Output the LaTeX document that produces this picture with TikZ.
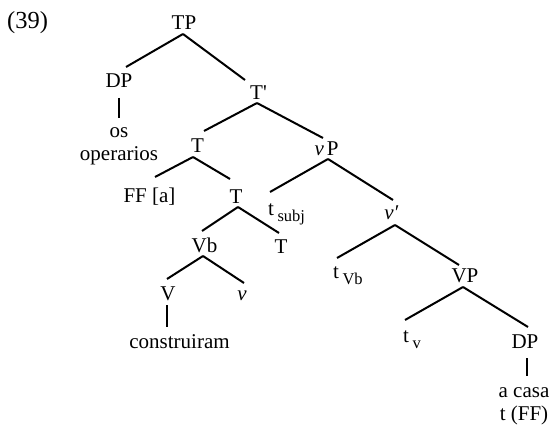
\documentclass[tikz,border=0pt]{standalone}
\usepackage{fontspec}
\setmainfont{Liberation Serif}
\begin{document}
\begin{tikzpicture}[x=1pt,y=-1pt,
  lab/.style={font=\fontsize{21}{25}\selectfont, inner sep=0pt, anchor=base},
  labw/.style={lab, anchor=base west},
  edge/.style={line width=2pt, line cap=butt}]
\newcommand{\subtxt}[1]{\hspace{3.5pt}\raisebox{-6.5pt}{\fontsize{16.5}{18}\selectfont #1}}
% canvas
\fill[white] (0,0) rectangle (551,425);
\useasboundingbox (0,0) rectangle (551,425);

% example number
\node[labw, font=\fontsize{24.5}{28}\selectfont] (num) at (7,29) {(39)};

% tree nodes
\node[lab] (TP)   at (184,30)    {TP};
\node[lab] (DPa)  at (119,88)    {DP};
\node[lab] (os)   at (119,138)   {os};
\node[lab] (oper) at (119,160)   {operarios};
\node[lab] (Tbar) at (258.5,100) {T\textquotesingle};
\node[lab] (Ta)   at (197.5,152) {T};
\node[lab] (vP)   at (326.5,155) {\textit{v}\hspace{3pt}P};
\node[lab] (FF)   at (149.5,202) {FF [a]};
\node[lab] (Tb)   at (236,203)   {T};
\node[labw] (tsubj) at (268,215) {t\subtxt{subj}};
\node[lab] (vbar) at (391.5,219) {\textit{v′}};
\node[lab] (Vb)   at (204.5,252) {Vb};
\node[lab] (Tc)   at (281,253)   {T};
\node[labw] (tVb) at (333,278)   {t\subtxt{Vb}};
\node[lab] (VP)   at (465,282)   {VP};
\node[lab] (V)    at (168,300)   {V};
\node[lab] (vlow) at (242,300)   {\textit{v}};
\node[labw] (tv)  at (403,342)   {t\subtxt{v}};
\node[lab] (cons) at (179.5,348) {construiram};
\node[lab] (DPb)  at (525,348)   {DP};
\node[lab] (casa) at (524,397)   {a casa};
\node[lab] (tFF)  at (524,420)   {t (FF)};

% branches
\draw[edge] ([shift={(-1,4)}]TP.base)    -- ([shift={(7,-21)}]DPa.base);
\draw[edge] ([shift={(-1,4)}]TP.base)    -- ([shift={(-13.5,-20)}]Tbar.base);
\draw[edge] ([shift={(0,10)}]DPa.base)   -- ([shift={(0,-20)}]os.base);
\draw[edge] ([shift={(-1.5,3)}]Tbar.base) -- ([shift={(6.5,-21)}]Ta.base);
\draw[edge] ([shift={(-1.5,3)}]Tbar.base) -- ([shift={(-3.5,-17)}]vP.base);
\draw[edge] ([shift={(-4.5,5)}]Ta.base)  -- ([shift={(5.5,-25)}]FF.base);
\draw[edge] ([shift={(-4.5,5)}]Ta.base)  -- ([shift={(-6,-24)}]Tb.base);
\draw[edge] ([shift={(1.5,4)}]vP.base)   -- ([shift={(2,-23)}]tsubj.base west);
\draw[edge] ([shift={(1.5,4)}]vP.base)   -- ([shift={(1.5,-19)}]vbar.base);
\draw[edge] ([shift={(2,4)}]Tb.base)     -- ([shift={(-2.5,-21)}]Vb.base);
\draw[edge] ([shift={(2,4)}]Tb.base)     -- ([shift={(-2,-20)}]Tc.base);
\draw[edge] ([shift={(3.5,6)}]vbar.base) -- ([shift={(4,-20)}]tVb.base west);
\draw[edge] ([shift={(3.5,6)}]vbar.base) -- ([shift={(-6,-17)}]VP.base);
\draw[edge] ([shift={(-1.5,4)}]Vb.base)  -- ([shift={(-1,-21)}]V.base);
\draw[edge] ([shift={(-1.5,4)}]Vb.base)  -- ([shift={(2,-17)}]vlow.base);
\draw[edge] ([shift={(-2,5)}]VP.base)    -- ([shift={(2,-22)}]tv.base west);
\draw[edge] ([shift={(-2,5)}]VP.base)    -- ([shift={(3,-21)}]DPb.base);
\draw[edge] ([shift={(-1,5)}]V.base)     -- ([shift={(-12.5,-21)}]cons.base);
\draw[edge] ([shift={(2,10)}]DPb.base)   -- ([shift={(3,-21)}]casa.base);
\end{tikzpicture}
\end{document}
